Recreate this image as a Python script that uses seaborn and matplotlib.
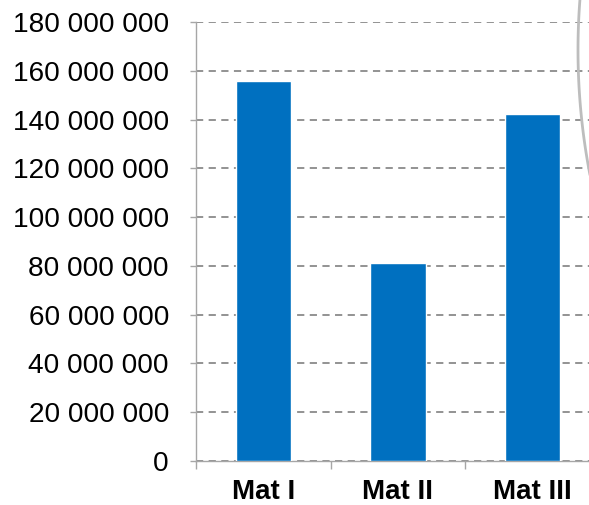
import numpy as np
import pandas as pd
import seaborn as sns
import matplotlib.pyplot as plt
from matplotlib.ticker import FuncFormatter, FixedLocator
from matplotlib.lines import Line2D

categories = ['Mat I', 'Mat II', 'Mat III']
values = [155_800_000, 81_000_000, 142_300_000]

df = pd.DataFrame({'category': categories, 'value': values})

sns.set_style('white')
plt.rcParams['font.family'] = ['Liberation Sans', 'DejaVu Sans']

W, H = 589, 505
fig = plt.figure(figsize=(W / 100, H / 100), dpi=100)
ax = fig.add_axes([196 / W, 44 / H, (600 - 196) / W, 439 / H])

sns.barplot(data=df, x='category', y='value', color='#0070C0', saturation=1,
            width=0.41, ax=ax, zorder=3)

ax.set_xlim(-0.5, 2.5)
ax.set_ylim(0, 180_000_000)
ax.set_yticks(np.arange(0, 180_000_001, 20_000_000))
ax.yaxis.set_major_formatter(FuncFormatter(lambda v, p: f"{v:,.0f}".replace(',', ' ')))
ax.grid(axis='y', color='#8a8a8a', linestyle=(0, (4, 3)), linewidth=1.3, zorder=0)
ax.set_xlabel('')
ax.set_ylabel('')

for s in ['top', 'right']:
    ax.spines[s].set_visible(False)
for s in ['left', 'bottom']:
    ax.spines[s].set_color('#a6a6a6')
    ax.spines[s].set_linewidth(1.0)

ax.tick_params(axis='y', which='major', left=True, length=4.5, width=1,
               color='#a6a6a6', labelsize=20.2, pad=15, labelcolor='black')
ax.tick_params(axis='x', which='major', bottom=False, length=0, labelsize=20,
               pad=13, labelcolor='black')
ax.xaxis.set_minor_locator(FixedLocator([-0.5, 0.5, 1.5, 2.5]))
ax.tick_params(axis='x', which='minor', bottom=True, length=6, width=1, color='#a6a6a6')
for lab in ax.get_xticklabels():
    lab.set_fontweight('bold')

# curved grey decoration at the right edge
yy = np.linspace(0, 175, 60)
R, x0, y0 = 657, 578 + 657, 50
xx = x0 - np.sqrt(R ** 2 - (yy - y0) ** 2)
fig.add_artist(Line2D(xx / W, 1 - yy / H, color='#bdbdbd', linewidth=2,
                      transform=fig.transFigure))

fig.savefig('out.png', dpi=100)
